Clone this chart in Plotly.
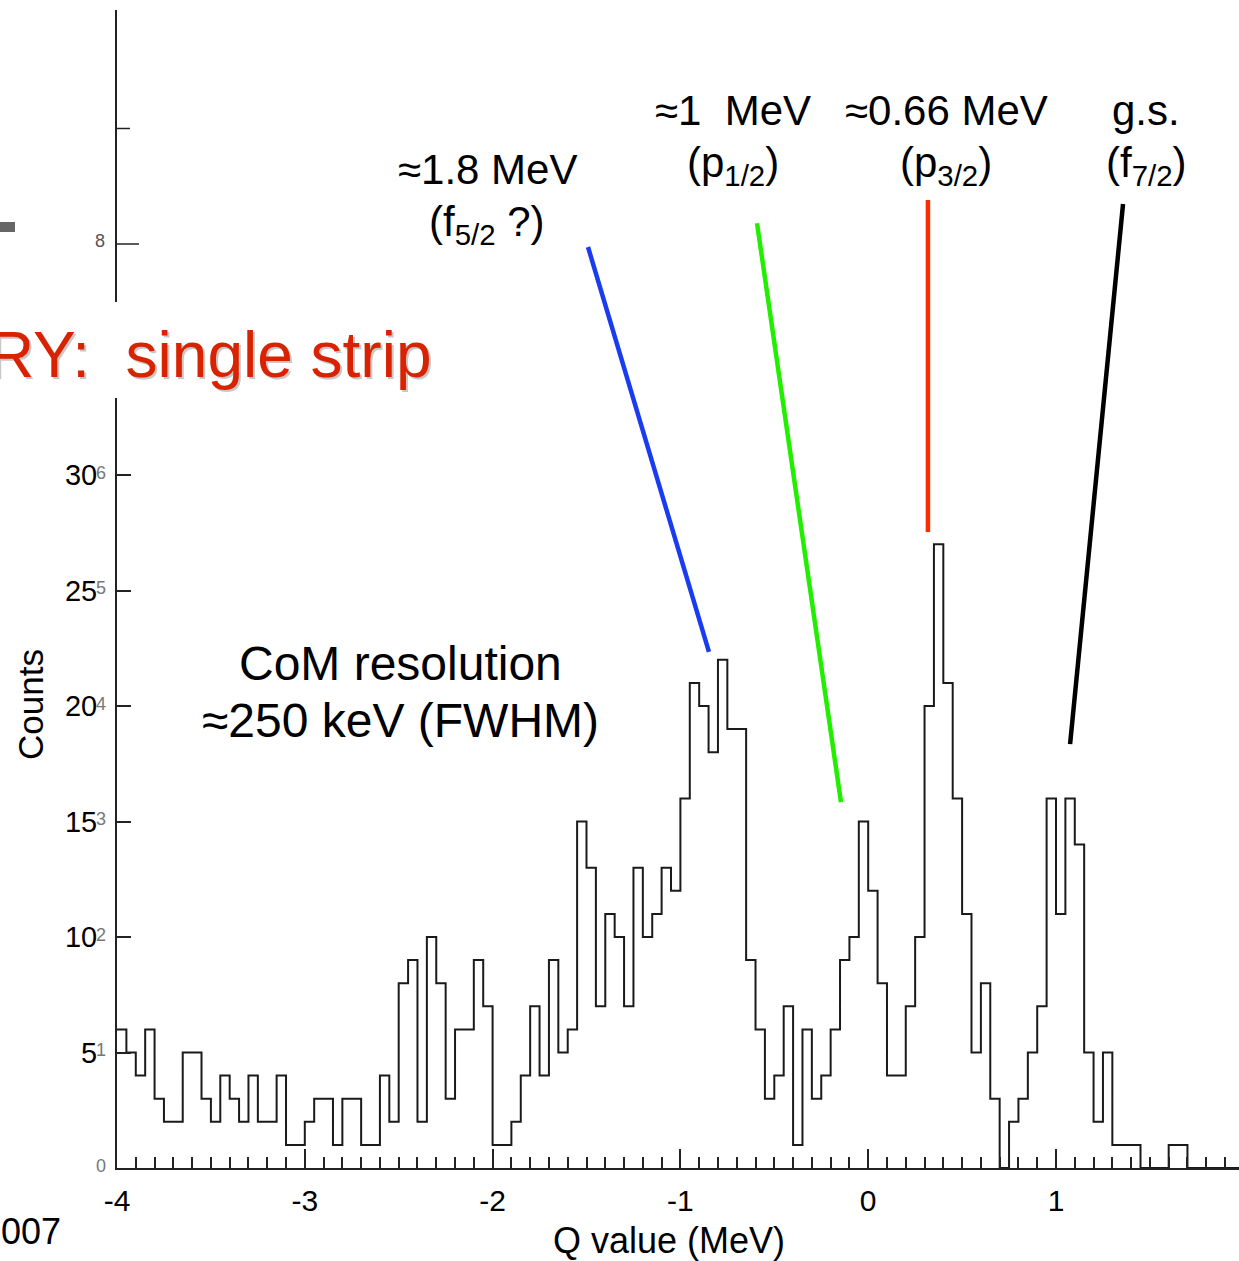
import plotly.graph_objects as go

# ---------------- data ----------------
bin_start = -4.0      # MeV, left edge of first bin
bin_width = 0.05      # MeV
counts = [
    6, 5, 4, 6, 3, 2, 2, 5, 5, 3,
    2, 4, 3, 2, 4, 2, 2, 4, 1, 1,
    2, 3, 3, 1, 3, 3, 1, 1, 4, 2,
    8, 9, 2, 10, 8, 3, 6, 6, 9, 7,
    1, 1, 2, 4, 7, 4, 9, 5, 6, 15,
    13, 7, 11, 10, 7, 13, 10, 11, 13, 12,
    16, 21, 20, 18, 22, 19, 19, 9, 6, 3,
    4, 7, 1, 6, 3, 4, 6, 9, 10, 15,
    12, 8, 4, 4, 7, 10, 20, 27, 21, 16,
    11, 5, 8, 3, 0, 2, 3, 5, 7, 16,
    11, 16, 14, 5, 2, 5, 1, 1, 1, 0,
    0, 0, 1, 1, 0, 0, 0, 0, 0, 0,
]
x_tick_vals = [-4, -3, -2, -1, 0, 1]
x_tick_text = ["-4", "-3", "-2", "-1", "0", "1"]
y_tick_vals = [5, 10, 15, 20, 25, 30]
y_tick_text = ["5", "10", "15", "20", "25", "30"]
y_extra_ticks = [40, 45]                          # ticks of the underlying axis above the data
y_old_vals = [0, 5, 10, 15, 20, 25, 30]          # underlying (old) axis labels
y_old_text = ["0", "1", "2", "3", "4", "5", "6"]
level_top = ["≈1.8 MeV", "≈1  MeV", "≈0.66 MeV", "g.s."]
level_bot = ["(f<sub>5/2</sub> ?)", "(p<sub>1/2</sub>)", "(p<sub>3/2</sub>)", "(f<sub>7/2</sub>)"]

edges = [bin_start + bin_width * i for i in range(len(counts) + 1)]
ys = counts + [counts[-1]]

# ---------------- geometry helpers (pixel -> paper) ----------------
W, H = 1239, 1261
L, R, T, B = 117, 1239, 10, 1168
def px(x):
    return (x - L) / (R - L)
def py(y):
    return (B - y) / (B - T)

FONT = "Liberation Sans, Arial, sans-serif"

fig = go.Figure()
fig.add_trace(go.Scatter(
    x=edges, y=ys, mode="lines", line=dict(shape="hv", color="#1a1a1a", width=2),
    hoverinfo="skip", showlegend=False))

fig.update_layout(
    width=W, height=H,
    margin=dict(l=L, r=W - R, t=T, b=H - B, pad=0),
    paper_bgcolor="white", plot_bgcolor="white",
    font=dict(family=FONT, color="black"),
    showlegend=False,
    xaxis=dict(range=[-4, -4 + (R - L) / 187.8], showgrid=False, zeroline=False,
               showline=True, linecolor="#222", linewidth=2,
               tickmode="array", tickvals=x_tick_vals, ticktext=x_tick_text,
               ticks="inside", ticklen=19, tickwidth=1.5, tickcolor="#222",
               tickfont=dict(size=30, family=FONT, color="black"),
               ticklabelstandoff=5,
               minor=dict(dtick=0.1, tick0=0, ticks="inside", ticklen=11,
                          tickwidth=1.5, tickcolor="#222", showgrid=False)),
    yaxis=dict(range=[0, (B - T) / 23.1], showgrid=False, zeroline=False,
               showline=True, linecolor="#222", linewidth=2,
               tickmode="array", tickvals=y_tick_vals, ticktext=y_tick_text,
               ticks="inside", ticklen=14, tickwidth=1.5, tickcolor="#222",
               tickfont=dict(size=29, family=FONT, color="black"),
               ticklabelstandoff=12),
)

shapes = []
# extra ticks of the underlying axis (upper part)
for v, ln in zip(y_extra_ticks, [22, 13]):
    shapes.append(dict(type="line", xref="paper", yref="y",
                       x0=0, x1=px(L + ln), y0=v, y1=v, line=dict(color="#222", width=1.5)))
# gap in the axis behind the red heading
shapes.append(dict(type="rect", xref="paper", yref="paper", layer="above",
                   x0=px(-5), x1=px(445), y0=py(398), y1=py(302),
                   fillcolor="white", line=dict(width=0)))
# small grey bar at the left edge
shapes.append(dict(type="rect", xref="paper", yref="paper",
                   x0=px(0), x1=px(15), y0=py(232), y1=py(222),
                   fillcolor="#666", line=dict(width=0)))
# pointer lines (data coordinates)
pointers = [
    ((-1.492, 39.87), (-0.848, 22.34), "#1a3cf0"),
    ((-0.592, 40.90), (-0.145, 15.84), "#22ee00"),
    ((0.318, 41.90), (0.318, 27.53), "#ff2a00"),
    ((1.357, 41.73), (1.075, 18.35), "#000000"),
]
for (x0, y0), (x1, y1), c in pointers:
    shapes.append(dict(type="line", xref="x", yref="y", x0=x0, y0=y0, x1=x1, y1=y1,
                       line=dict(color=c, width=4.5)))
fig.update_layout(shapes=shapes)

ann = []
def text(x, y, s, size, color="black", xanchor="center", **kw):
    ann.append(dict(xref="paper", yref="paper", x=px(x), y=py(y), text=s,
                    showarrow=False, xanchor=xanchor, yanchor="middle",
                    font=dict(size=size, color=color, family=FONT), **kw))

# red heading with soft shadow
text(435, 357, "RY:\u00a0 single strip", 64, color="#c8c8c8", xanchor="right")
text(433, 355, "RY:\u00a0 single strip", 64, color="#d92200", xanchor="right")
# old axis remnants
text(100, 241, "8", 18, color="#555")
for v, t in zip(y_old_vals, y_old_text):
    ann.append(dict(xref="paper", yref="y", x=px(101), y=v + 0.1, text=t, showarrow=False,
                    xanchor="center", yanchor="middle",
                    font=dict(size=18, color="#777", family=FONT)))
# axis titles
text(30, 705, "Counts", 35, textangle=-90)
text(669, 1240, "Q value (MeV)", 36)
text(-1, 1231, "007", 36, xanchor="left")
# resolution note
text(400, 663, "CoM resolution", 48)
text(400, 720, "≈250 keV (FWHM)", 48)
# level labels
label_x = [487, 733, 946, 1146]
label_y = [(170, 225), (110, 165), (110, 165), (110, 165)]
for lx, (y1, y2), t1, t2 in zip(label_x, label_y, level_top, level_bot):
    text(lx, y1, t1, 42)
    text(lx, y2, t2, 42)
fig.update_layout(annotations=ann)

fig.write_html("out.html")
